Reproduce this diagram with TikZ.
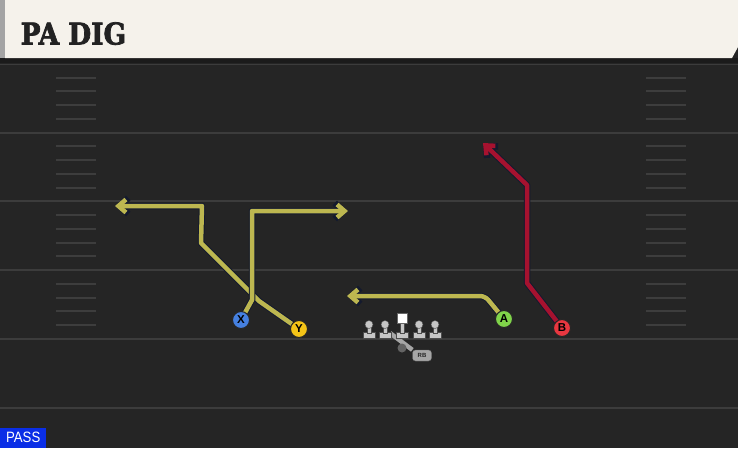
\documentclass[tikz,border=0pt]{standalone}
\usepackage{graphicx}
\usepackage{fontspec}
\setmainfont{Liberation Sans}
\newfontfamily\titlefont{DejaVu Serif}[FakeBold=2.5]
\usetikzlibrary{arrows.meta}
\definecolor{fieldbg}{HTML}{252525}
\definecolor{fielddark}{HTML}{1B1B1B}
\definecolor{yardcol}{HTML}{3C3C3C}
\definecolor{hashcol}{HTML}{3D3D3D}
\definecolor{cream}{HTML}{F5F2EB}
\definecolor{stripgray}{HTML}{A4A4A4}
\definecolor{titlecol}{HTML}{222222}
\definecolor{routeyellow}{HTML}{BDB750}
\definecolor{routered}{HTML}{A6122F}
\definecolor{outlinecol}{HTML}{141A2E}
\definecolor{xblue}{HTML}{4580E0}
\definecolor{yyellow}{HTML}{F4C417}
\definecolor{agreen}{HTML}{80D44A}
\definecolor{bred}{HTML}{E83740}
\definecolor{linegray}{HTML}{C6C6C6}
\definecolor{rbgray}{HTML}{A6A6A6}
\definecolor{passblue}{HTML}{0A2EE6}
\pgfdeclarelayer{field}
\pgfdeclarelayer{routes}
\pgfsetlayers{field,routes,main}
\begin{document}
\begin{tikzpicture}[x=1pt,y=-1pt,
  player/.style={circle, draw=black!85, line width=1pt, minimum size=17pt, inner sep=0pt,
    font=\bfseries\fontsize{11.5}{11.5}\selectfont, text=black},
  routeout/.style={line width=6.5pt, draw=outlinecol, line join=round,
    -{Straight Barb[length=8.5pt,width=16pt,line join=miter]}},
  routein/.style={line width=4.5pt, line join=round,
    -{Straight Barb[length=7.5pt,width=13pt,line join=miter]}},
  yardline/.style={draw=yardcol, line width=2pt},
  hashmark/.style={draw=hashcol, line width=2pt},
  lineman/.style={fill=linegray, draw=black!70, line width=0.4pt}
]
\useasboundingbox (0,0) rectangle (738,448);
\begin{pgfonlayer}{field}
  % field
  \fill[fieldbg] (0,0) rectangle (738,448);
  \fill[fielddark] (0,58) rectangle (738,63);
  \draw[draw=yardcol, line width=1.5pt] (0,64.5) -- (738,64.5);
  \foreach \yy in {132.5,201.25,270,338.75,407.5}{
    \draw[yardline] (0,\yy) -- (738,\yy);
  }
  \foreach \base in {132.5,201.25,270,338.75}{
    \foreach \k in {1,2,3,4}{
      \draw[hashmark] (56,\base-13.75*\k) -- (96,\base-13.75*\k);
      \draw[hashmark] (646,\base-13.75*\k) -- (686,\base-13.75*\k);
    }
  }
  % header
  \fill[cream] (5,0) -- (738,0) -- (738,47) -- (732,58) -- (5,58) -- cycle;
  \fill[stripgray] (0,0) rectangle (5,58);
\end{pgfonlayer}

\node[anchor=base west, inner sep=0pt, text=titlecol] (title) at (20.5,44.5)
  {\titlefont\bfseries\fontsize{30}{30}\selectfont\scalebox{0.88}[1]{PA DIG}};

\node[anchor=south west, fill=passblue, text=white, minimum width=46pt, minimum height=20pt,
  inner sep=0pt, font=\fontsize{15}{15}\selectfont] (pass) at (0,448) {\scalebox{0.88}[1]{PASS}};

% players
\node[player, fill=xblue] (X) at (241,320) {X};
\node[player, fill=yyellow] (Y) at (299,329) {Y};
\node[player, fill=agreen] (A) at (504,319) {A};
\node[player, fill=bred] (B) at (562,328) {B};

% offensive line and backfield
\coordinate (rbpath) at (390,333);
\node[fill=rbgray!60!black, circle, inner sep=0pt, minimum size=9pt] (rbdot) at (402,348) {};
\node[fill=rbgray, rounded corners=3pt, inner sep=0pt, minimum width=19pt, minimum height=11pt,
  font=\bfseries\fontsize{6}{6}\selectfont, text=black!85, draw=black!60, line width=0.3pt] (RB) at (422,355.5) {RB};
\begin{pgfonlayer}{routes}
  \draw[rbgray, line width=4.5pt] (rbpath) -- (RB.north west);
\end{pgfonlayer}
\foreach \xx in {369,385,419,435}{
  \fill[lineman] (\xx-6,332.5) rectangle (\xx+6,338);
  \fill[lineman] (\xx-2.2,324) rectangle (\xx+2.2,333);
  \fill[lineman] (\xx,324.5) circle (4pt);
}
\fill[lineman] (396,332.5) rectangle (408,338);
\fill[lineman] (399.8,322) rectangle (404.2,333);
\node[fill=white, draw=black!60, line width=0.4pt, minimum size=10pt, inner sep=0pt] (C) at (402,318) {};

% routes
\begin{pgfonlayer}{routes}
  \coordinate (y1) at (259,301);
  \coordinate (y2) at (201,243);
  \coordinate (y3) at (202,206);
  \coordinate (yend) at (115,206);
  \draw[routeout] (Y.center) -- (y1) -- (y2) -- (y3) -- (yend);
  \draw[routein, routeyellow] (Y.center) -- (y1) -- (y2) -- (y3) -- (yend);

  \coordinate (x1) at (252,300);
  \coordinate (x2) at (252,211);
  \coordinate (xend) at (348,211);
  \draw[routeout] (X.center) -- (x1) -- (x2) -- (xend);
  \draw[routein, routeyellow] (X.center) -- (x1) -- (x2) -- (xend);

  \coordinate (a1) at (485,296);
  \coordinate (aend) at (347,296);
  \draw[routeout, rounded corners=5pt] (A.center) -- (a1) -- (aend);
  \draw[routein, routeyellow, rounded corners=5pt] (A.center) -- (a1) -- (aend);

  \coordinate (b1) at (527,283);
  \coordinate (b2) at (527,185);
  \coordinate (bend) at (483,143);
  \draw[routeout] (B.center) -- (b1) -- (b2) -- (bend);
  \draw[routein, routered] (B.center) -- (b1) -- (b2) -- (bend);
\end{pgfonlayer}
\end{tikzpicture}
\end{document}
